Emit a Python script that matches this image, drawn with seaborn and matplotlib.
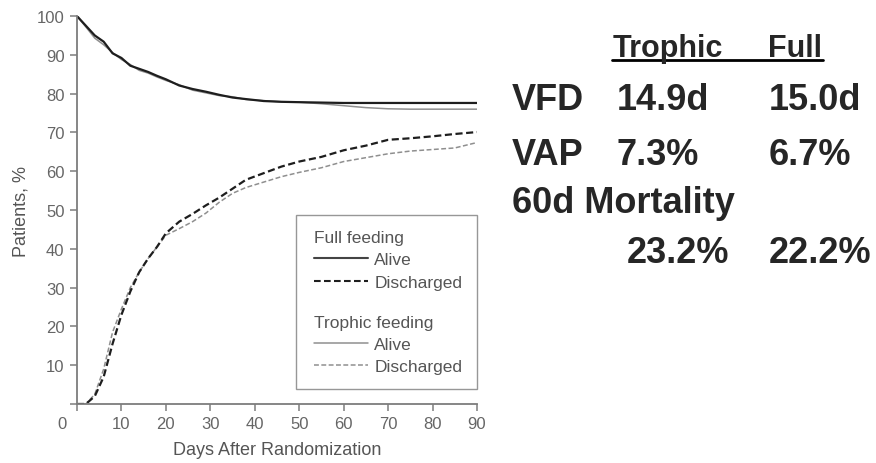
import pandas as pd
import matplotlib.pyplot as plt
import matplotlib.transforms as mtransforms
from matplotlib.lines import Line2D
from matplotlib.legend_handler import HandlerLine2D
import seaborn as sns

# Curve values (days after randomization, % of patients)
days = [0, 2, 4, 6, 8, 10, 12, 14, 16, 18, 20, 23, 26, 29, 32, 35, 38,
        42, 46, 50, 55, 60, 65, 70, 75, 80, 85, 90]
full_alive = [100, 97.5, 95.0, 93.4, 90.4, 89.2, 87.2, 86.4, 85.6, 84.6, 83.7,
              82.1, 81.2, 80.5, 79.7, 79.0, 78.6, 78.1, 77.9, 77.8, 77.7, 77.6,
              77.6, 77.6, 77.6, 77.6, 77.6, 77.6]
trophic_alive = [100, 97.2, 94.3, 92.6, 90.6, 88.8, 87.5, 86.0, 85.3, 84.3, 83.4,
                 82.3, 80.9, 80.2, 79.5, 79.2, 78.5, 78.2, 77.9, 77.8, 77.4, 76.9,
                 76.4, 76.1, 76.0, 76.0, 76.0, 76.0]
full_discharged = [0, 0, 2.0, 7.0, 15.5, 23.0, 29.0, 34.0, 37.5, 40.5, 44.0,
                   47.0, 49.0, 51.2, 53.2, 55.5, 57.8, 59.5, 61.2, 62.5, 63.7,
                   65.4, 66.6, 68.1, 68.5, 69.0, 69.6, 70.1]
trophic_discharged = [0, 0, 2.5, 9.0, 18.5, 24.5, 30.0, 34.0, 37.5, 40.5, 43.5,
                      45.2, 47.0, 49.2, 52.0, 54.3, 55.8, 57.2, 58.6, 59.7, 60.9,
                      62.5, 63.5, 64.5, 65.2, 65.6, 66.0, 67.4]

x_ticks = [0, 10, 20, 30, 40, 50, 60, 70, 80, 90]
y_ticks = [0, 10, 20, 30, 40, 50, 60, 70, 80, 90, 100]
y_tick_labels = [''] + [str(v) for v in y_ticks[1:]]

table_rows = [
    ('VFD', '14.9d', '15.0d'),
    ('VAP', '7.3%', '6.7%'),
]
mortality = ('23.2%', '22.2%')

df = pd.DataFrame({
    'day': days,
    'full_alive': full_alive,
    'trophic_alive': trophic_alive,
    'full_discharged': full_discharged,
    'trophic_discharged': trophic_discharged,
})

sns.set_style('ticks')
plt.rcParams['font.family'] = ['Liberation Sans', 'DejaVu Sans']

dark = '#1e1e1e'
light = '#8f8f8f'
axis_col = '#7d7d7d'
text_col = '#555555'
dash = (0, (3.2, 1.6))

fig = plt.figure(figsize=(8.76, 4.64), dpi=100)
ax = fig.add_axes([0.0879, 0.1272, 0.4566, 0.836])

sns.lineplot(data=df, x='day', y='trophic_alive', ax=ax, color=light, linewidth=1.1)
sns.lineplot(data=df, x='day', y='trophic_discharged', ax=ax, color=light,
             linewidth=1.1, linestyle=dash)
sns.lineplot(data=df, x='day', y='full_alive', ax=ax, color=dark, linewidth=1.6)
sns.lineplot(data=df, x='day', y='full_discharged', ax=ax, color=dark,
             linewidth=1.6, linestyle=dash)

ax.set_xlim(0, 90)
ax.set_ylim(0, 100)
ax.set_xticks(x_ticks)
ax.set_yticks(y_ticks)
ax.set_yticklabels(y_tick_labels)
ax.set_xlabel('Days After Randomization', fontsize=13, color=text_col, labelpad=7)
ax.set_ylabel('Patients, %', fontsize=13, color=text_col, labelpad=5)
sns.despine(ax=ax)
for side in ('left', 'bottom'):
    ax.spines[side].set_color(axis_col)
    ax.spines[side].set_linewidth(1.3)
ax.tick_params(length=5, width=1.1, color=axis_col, labelcolor='#666666',
               labelsize=12, pad=4)

# the "0" sits at the corner, left of the axis origin
lbl0 = ax.get_xticklabels()[0]
lbl0.set_transform(lbl0.get_transform() +
                   mtransforms.ScaledTranslation(-0.15, 0, fig.dpi_scale_trans))

# legend with group headers
blank1 = Line2D([], [], color='none')
blank2 = Line2D([], [], color='none')
handles = [blank1,
           Line2D([], [], color='#444444', linewidth=1.5),
           Line2D([], [], color=dark, linewidth=1.5, linestyle=dash),
           blank2,
           Line2D([], [], color=light, linewidth=1.1),
           Line2D([], [], color=light, linewidth=1.1, linestyle=dash)]
labels = ['Full feeding', 'Alive', 'Discharged',
          '\nTrophic feeding', 'Alive', 'Discharged']
leg = ax.legend(handles, labels, loc='lower right', bbox_to_anchor=(1.0, 0.038),
                frameon=True, fancybox=False, edgecolor=axis_col, fontsize=12.5,
                handlelength=3.3, handletextpad=0.35, labelspacing=0.42,
                borderpad=0.85, borderaxespad=0,
                handler_map={Line2D: HandlerLine2D(xpad=0.2)})
leg.get_frame().set_linewidth(1.0)
for t in leg.get_texts():
    t.set_color(text_col)
rows = leg._legend_handle_box.get_children()[0].get_children()
for i in (0, 3):
    rows[i].get_children()[0].set_width(-1.9)

# summary table on the right
fs_head = 22
fs_body = 26
fig.text(0.699, 0.877, 'Trophic', fontsize=fs_head, fontweight='bold', va='baseline')
fig.text(0.877, 0.877, 'Full', fontsize=fs_head, fontweight='bold', va='baseline')
fig.add_artist(Line2D([0.699, 0.9395], [0.8685, 0.8685], color='black',
                      linewidth=2, transform=fig.transFigure))
row_y = [0.763, 0.644]
for (name, v_t, v_f), y in zip(table_rows, row_y):
    fig.text(0.584, y, name, fontsize=fs_body, fontweight='bold', va='baseline')
    fig.text(0.704, y, v_t, fontsize=fs_body, fontweight='bold', va='baseline')
    fig.text(0.877, y, v_f, fontsize=fs_body, fontweight='bold', va='baseline')
fig.text(0.584, 0.541, '60d Mortality', fontsize=fs_body, fontweight='bold',
         va='baseline')
fig.text(0.716, 0.433, mortality[0], fontsize=fs_body, fontweight='bold', va='baseline')
fig.text(0.877, 0.433, mortality[1], fontsize=fs_body, fontweight='bold', va='baseline')

fig.savefig('out.png', dpi=100)
